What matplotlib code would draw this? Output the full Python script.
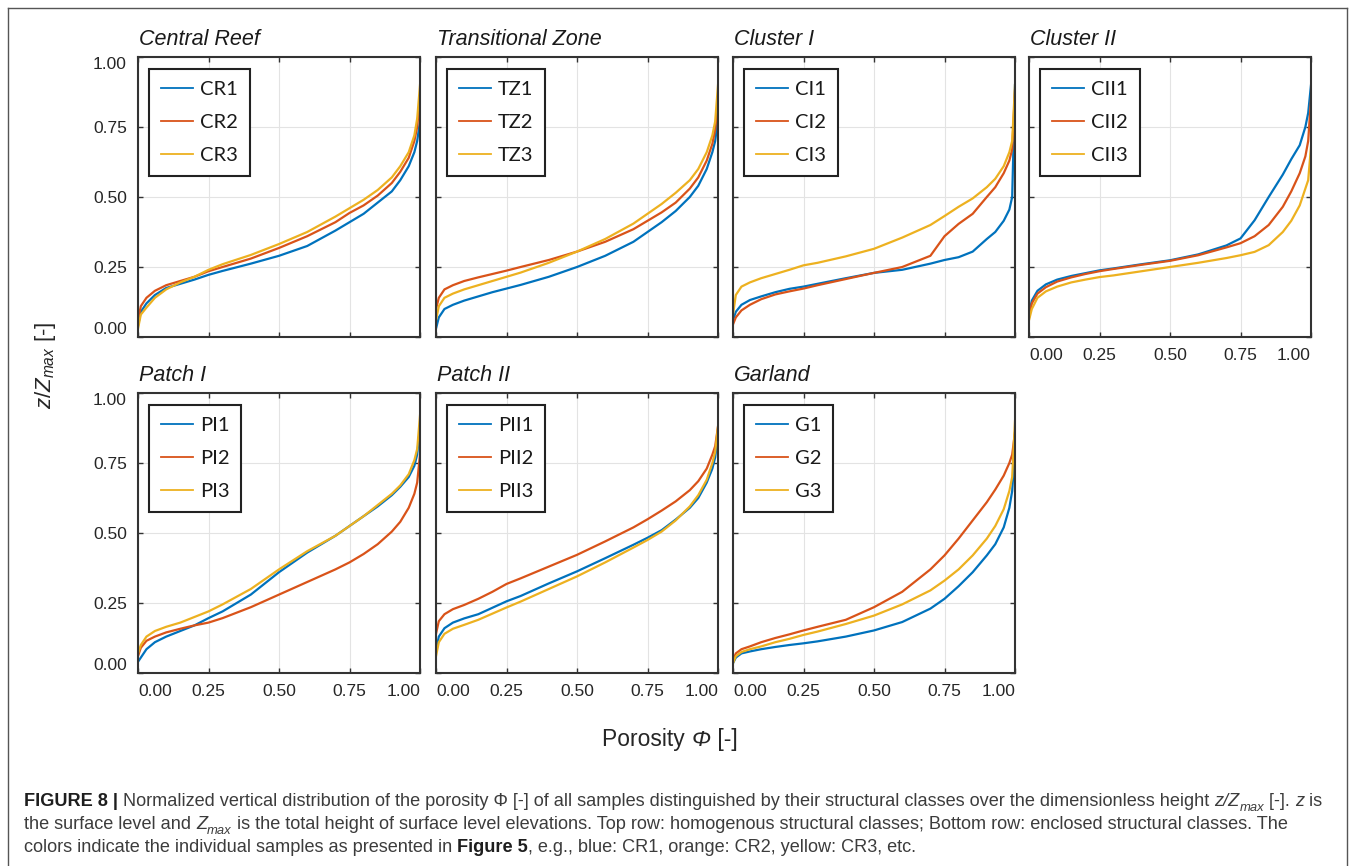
import matplotlib
matplotlib.use("Agg")
import matplotlib.pyplot as plt
from matplotlib.lines import Line2D

W, H, DPI = 1355, 866, 100
plt.rcParams['font.family'] = ['Liberation Sans', 'DejaVu Sans']
plt.rcParams['mathtext.fontset'] = 'custom'
plt.rcParams['mathtext.rm'] = 'Liberation Sans'
plt.rcParams['mathtext.it'] = 'Liberation Sans:italic'
plt.rcParams['mathtext.bf'] = 'Liberation Sans:bold'

# ---------------- data (porosity grid and z/Zmax of each sample) ----------------
PHI = [0.0, 0.01, 0.03, 0.06, 0.1, 0.15, 0.2, 0.25, 0.3, 0.4, 0.5, 0.6,
       0.7, 0.75, 0.8, 0.85, 0.9, 0.93, 0.96, 0.98, 0.99, 1.0]

CR1 = [0.04, 0.09, 0.12, 0.15, 0.175, 0.19, 0.205, 0.222, 0.236, 0.262, 0.29, 0.325, 0.38, 0.41, 0.44, 0.48, 0.52, 0.56, 0.61, 0.66, 0.70, 0.77]
CR2 = [0.06, 0.11, 0.14, 0.165, 0.185, 0.2, 0.215, 0.235, 0.25, 0.28, 0.318, 0.36, 0.41, 0.443, 0.47, 0.505, 0.55, 0.59, 0.64, 0.7, 0.75, 0.86]
CR3 = [0.03, 0.08, 0.105, 0.14, 0.17, 0.195, 0.215, 0.24, 0.26, 0.293, 0.332, 0.375, 0.43, 0.46, 0.49, 0.525, 0.57, 0.61, 0.66, 0.72, 0.78, 0.9]

TZ1 = [0.03, 0.07, 0.1, 0.115, 0.13, 0.145, 0.16, 0.173, 0.186, 0.215, 0.25, 0.29, 0.34, 0.375, 0.41, 0.45, 0.5, 0.54, 0.6, 0.66, 0.7, 0.78]
TZ2 = [0.1, 0.14, 0.17, 0.185, 0.2, 0.213, 0.225, 0.237, 0.25, 0.275, 0.305, 0.34, 0.385, 0.415, 0.445, 0.48, 0.53, 0.57, 0.63, 0.69, 0.74, 0.85]
TZ3 = [0.06, 0.11, 0.14, 0.155, 0.17, 0.185, 0.2, 0.215, 0.23, 0.265, 0.305, 0.35, 0.405, 0.44, 0.475, 0.515, 0.56, 0.6, 0.66, 0.72, 0.77, 0.9]

CI1 = [0.06, 0.09, 0.115, 0.132, 0.145, 0.16, 0.172, 0.18, 0.19, 0.21, 0.229, 0.24, 0.262, 0.275, 0.285, 0.305, 0.35, 0.375, 0.415, 0.455, 0.5, 0.9]
CI2 = [0.045, 0.07, 0.095, 0.115, 0.135, 0.152, 0.163, 0.173, 0.185, 0.207, 0.229, 0.25, 0.29, 0.36, 0.404, 0.44, 0.5, 0.535, 0.585, 0.63, 0.67, 0.88]
CI3 = [0.08, 0.15, 0.18, 0.195, 0.21, 0.225, 0.24, 0.256, 0.265, 0.288, 0.315, 0.355, 0.4, 0.432, 0.465, 0.495, 0.535, 0.565, 0.61, 0.66, 0.7, 0.9]

CII1 = [0.08, 0.13, 0.165, 0.188, 0.205, 0.218, 0.228, 0.238, 0.245, 0.26, 0.274, 0.295, 0.327, 0.352, 0.417, 0.5, 0.58, 0.635, 0.685, 0.75, 0.8, 0.9]
CII2 = [0.07, 0.12, 0.155, 0.178, 0.198, 0.213, 0.225, 0.235, 0.243, 0.258, 0.272, 0.292, 0.32, 0.335, 0.36, 0.4, 0.465, 0.52, 0.585, 0.645, 0.7, 0.85]
CII3 = [0.06, 0.1, 0.14, 0.163, 0.18, 0.195, 0.205, 0.214, 0.22, 0.235, 0.25, 0.265, 0.282, 0.292, 0.304, 0.328, 0.375, 0.415, 0.47, 0.53, 0.56, 0.68]

PI1 = [0.04, 0.055, 0.085, 0.11, 0.13, 0.15, 0.17, 0.196, 0.22, 0.28, 0.36, 0.43, 0.49, 0.525, 0.56, 0.595, 0.635, 0.665, 0.7, 0.74, 0.78, 0.88]
PI2 = [0.06, 0.09, 0.115, 0.13, 0.145, 0.158, 0.17, 0.18, 0.196, 0.235, 0.28, 0.325, 0.37, 0.395, 0.425, 0.46, 0.505, 0.54, 0.59, 0.64, 0.68, 0.78]
PI3 = [0.07, 0.1, 0.13, 0.15, 0.165, 0.18, 0.2, 0.22, 0.245, 0.3, 0.37, 0.435, 0.49, 0.525, 0.56, 0.6, 0.64, 0.67, 0.71, 0.76, 0.8, 0.92]

PII1 = [0.08, 0.13, 0.16, 0.18, 0.195, 0.21, 0.233, 0.256, 0.275, 0.32, 0.363, 0.41, 0.458, 0.483, 0.51, 0.548, 0.59, 0.625, 0.68, 0.73, 0.77, 0.85]
PII2 = [0.14, 0.185, 0.21, 0.228, 0.243, 0.265, 0.29, 0.318, 0.338, 0.38, 0.422, 0.47, 0.52, 0.549, 0.58, 0.613, 0.653, 0.685, 0.73, 0.78, 0.81, 0.88]
PII3 = [0.06, 0.11, 0.14, 0.158, 0.172, 0.19, 0.212, 0.234, 0.255, 0.3, 0.345, 0.395, 0.448, 0.475, 0.505, 0.545, 0.595, 0.635, 0.69, 0.75, 0.79, 0.88]

G1 = [0.035, 0.055, 0.07, 0.077, 0.085, 0.093, 0.1, 0.106, 0.113, 0.13, 0.152, 0.182, 0.23, 0.265, 0.31, 0.36, 0.42, 0.46, 0.52, 0.59, 0.65, 0.8]
G2 = [0.045, 0.07, 0.085, 0.095, 0.11, 0.125, 0.138, 0.152, 0.165, 0.19, 0.235, 0.29, 0.37, 0.42, 0.48, 0.545, 0.61, 0.655, 0.705, 0.75, 0.78, 0.86]
G3 = [0.035, 0.06, 0.075, 0.085, 0.095, 0.11, 0.122, 0.136, 0.148, 0.175, 0.205, 0.245, 0.295, 0.33, 0.37, 0.42, 0.48, 0.525, 0.585, 0.65, 0.7, 0.9]

TITLES = ["Central Reef", "Transitional Zone", "Cluster I", "Cluster II",
          "Patch I", "Patch II", "Garland"]
LABELS = [["CR1", "CR2", "CR3"], ["TZ1", "TZ2", "TZ3"], ["CI1", "CI2", "CI3"],
          ["CII1", "CII2", "CII3"], ["PI1", "PI2", "PI3"], ["PII1", "PII2", "PII3"],
          ["G1", "G2", "G3"]]
SERIES = [[CR1, CR2, CR3], [TZ1, TZ2, TZ3], [CI1, CI2, CI3], [CII1, CII2, CII3],
          [PI1, PI2, PI3], [PII1, PII2, PII3], [G1, G2, G3]]
TICKS = [0.0, 0.25, 0.5, 0.75, 1.0]
TICK_LABELS = ["0.00", "0.25", "0.50", "0.75", "1.00"]
COLORS = ["#0072BD", "#D95319", "#EDB120"]

# ---------------- layout ----------------
fig = plt.figure(figsize=(W / DPI, H / DPI), dpi=DPI)
COL_LEFT = [138, 436, 733, 1029]
ROW_TOP = [57, 393]
AX_W, AX_H = 282, 280
POS = [(0, 0), (0, 1), (0, 2), (0, 3), (1, 0), (1, 1), (1, 2)]

SPINE = "#333333"
TXT = "#262626"

def rect(left, top):
    return [left / W, 1 - (top + AX_H) / H, AX_W / W, AX_H / H]

for i, (r, c) in enumerate(POS):
    ax = fig.add_axes(rect(COL_LEFT[c], ROW_TOP[r]))
    for k in range(3):
        ax.plot(PHI, SERIES[i][k], color=COLORS[k], lw=1.6, label=LABELS[i][k],
                solid_joinstyle='round', clip_on=True)
    ax.set_xlim(0, 1)
    ax.set_ylim(0, 1)
    ax.set_xticks(TICKS)
    ax.set_yticks(TICKS)
    ax.grid(True, color="#e3e3e3", lw=0.8)
    ax.set_axisbelow(True)
    for s in ax.spines.values():
        s.set_color(SPINE)
        s.set_linewidth(1.5)
    show_x = (r == 1) or (c == 3)
    show_y = (c == 0)
    ax.tick_params(direction='in', length=3.5, width=1.0, color=SPINE,
                   top=True, right=True, labelsize=12.5, labelcolor=TXT,
                   labelbottom=show_x, labelleft=show_y)
    ax.tick_params(axis='x', pad=8)
    ax.tick_params(axis='y', pad=8)
    ax.set_xticklabels(TICK_LABELS if show_x else [])
    ax.set_yticklabels(TICK_LABELS if show_y else [])
    if show_x:
        xt = ax.xaxis.get_major_ticks()
        xt[0].label1.set_horizontalalignment('left')
        xt[-1].label1.set_horizontalalignment('right')
    if show_y:
        yt = ax.yaxis.get_major_ticks()
        yt[0].label1.set_verticalalignment('bottom')
        yt[-1].label1.set_verticalalignment('top')
    ax.annotate(TITLES[i], xy=(0, 1), xycoords='axes fraction',
                xytext=(1, 12), textcoords='offset pixels',
                ha='left', va='baseline', fontsize=15.5, fontstyle='italic',
                color="#1a1a1a")
    leg = ax.legend(loc='upper left', bbox_to_anchor=(11 / AX_W, 1 - 12 / AX_H),
                    borderaxespad=0, handlelength=1.6,
                    handletextpad=0.32, borderpad=0.6, labelspacing=0.79,
                    fancybox=False, framealpha=1, edgecolor="#222222",
                    prop={'family': 'Lato', 'size': 14.5})
    leg.get_frame().set_linewidth(1.5)
    for t in leg.get_texts():
        t.set_color("#1a1a1a")
    for ln in leg.get_lines():
        ln.set_linewidth(1.3)

# y label
fig.text(45 / W, 1 - 365 / H, r"$z/Z_{max}$ [-]", rotation=90, ha='center',
         va='center', fontsize=16, color=TXT)

# ---------------- rich text helper ----------------
renderer = fig.canvas.get_renderer()

def run_width(text, size, weight, style):
    t1 = fig.text(0, 0, text + "|", fontsize=size, fontweight=weight, fontstyle=style)
    t2 = fig.text(0, 0, "|", fontsize=size, fontweight=weight, fontstyle=style)
    w = t1.get_window_extent(renderer).width - t2.get_window_extent(renderer).width
    t1.remove(); t2.remove()
    return w

def runs_width(runs, base):
    tot = 0
    for text, weight, style, sub in runs:
        size = base * (0.72 if sub else 1.0)
        tot += run_width(text, size, weight, style)
    return tot

def draw_runs(runs, x, y, base, color, bold_color=None):
    for text, weight, style, sub in runs:
        size = base * (0.72 if sub else 1.0)
        yy = y + (0.28 * base * DPI / 72 if sub else 0)
        col = bold_color if (weight == 'bold' and bold_color) else color
        fig.text(x / W, 1 - yy / H, text, fontsize=size, fontweight=weight,
                 fontstyle=style, color=col, ha='left', va='baseline')
        x += run_width(text, size, weight, style)

N, B, I = 'normal', 'bold', 'italic'
# x label
xl_runs = [("Porosity ", N, N, False), ("\u03a6", N, I, False), (" [-]", N, N, False)]
xl_size = 16.5
xw = runs_width(xl_runs, xl_size)
draw_runs(xl_runs, 670 - xw / 2, 746, xl_size, TXT)

# caption
line1 = [("FIGURE 8 | ", B, N, False),
         ("Normalized vertical distribution of the porosity \u03a6 [-] of all samples "
          "distinguished by their structural classes over the dimensionless height ", N, N, False),
         ("z/Z", N, I, False), ("max", N, I, True), (" [-]. ", N, N, False),
         ("z", N, I, False), (" is", N, N, False)]
line2 = [("the surface level and ", N, N, False), ("Z", N, I, False), ("max", N, I, True),
         (" is the total height of surface level elevations. Top row: homogenous structural "
          "classes; Bottom row: enclosed structural classes. The", N, N, False)]
line3 = [("colors indicate the individual samples as presented in ", N, N, False),
         ("Figure 5", B, N, False),
         (", e.g., blue: CR1, orange: CR2, yellow: CR3, etc.", N, N, False)]
base0 = 12.0
w1 = runs_width(line1, base0)
cap_size = base0 * (1322 - 24) / w1
CAP = "#3c3c3c"
draw_runs(line1, 24, 806, cap_size, CAP, "#1e1e1e")
draw_runs(line2, 24, 829, cap_size, CAP, "#1e1e1e")
draw_runs(line3, 24, 852, cap_size, CAP, "#1e1e1e")

# outer frame
BC = "#555555"
for (x1, y1, x2, y2) in [(8, 8, 1347, 8), (8, 8, 8, 866), (1347, 8, 1347, 866)]:
    fig.add_artist(Line2D([x1 / W, x2 / W], [1 - y1 / H, 1 - y2 / H],
                          transform=fig.transFigure, color=BC, lw=1.0))

fig.savefig("out.png", dpi=DPI)
